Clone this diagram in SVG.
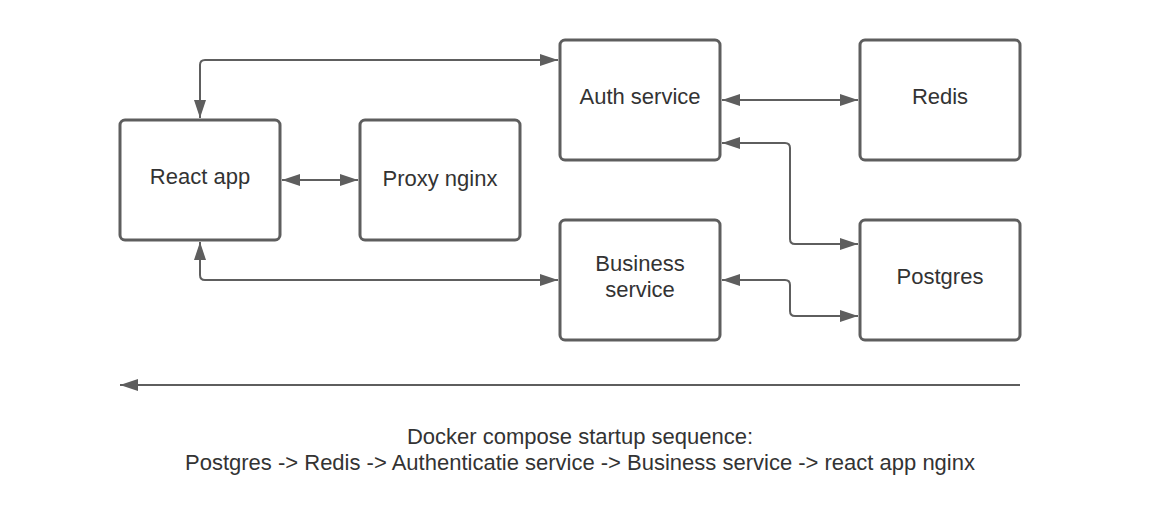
<svg xmlns="http://www.w3.org/2000/svg" width="1160" height="528" viewBox="0 0 1160 528">
  <style>
    .box { fill: #ffffff; stroke: #5e5e5e; stroke-width: 3; }
    .lbl { font-family: "Liberation Sans", Arial, sans-serif; font-size: 22px; fill: #333333; text-anchor: middle; }
    .conn { fill: none; stroke: #5e5e5e; stroke-width: 2; }
  </style>
  <defs>
    <marker id="arrow" viewBox="0 0 18 12" refX="18" refY="6" markerWidth="18" markerHeight="12" markerUnits="userSpaceOnUse" orient="auto-start-reverse">
      <path d="M0,0 L18,6 L0,12 z" fill="#5e5e5e"/>
    </marker>
  </defs>
  <rect width="1160" height="528" fill="#ffffff"/>

  <g id="connectors">
    <path class="conn" d="M200,118 L200,65 Q200,60 205,60 L558,60" marker-start="url(#arrow)" marker-end="url(#arrow)"/>
    <path class="conn" d="M200,242 L200,275 Q200,280 205,280 L558,280" marker-start="url(#arrow)" marker-end="url(#arrow)"/>
    <path class="conn" d="M282,180 L358,180" marker-start="url(#arrow)" marker-end="url(#arrow)"/>
    <path class="conn" d="M722,100 L858,100" marker-start="url(#arrow)" marker-end="url(#arrow)"/>
    <path class="conn" d="M722,143 L785,143 Q790,143 790,148 L790,239 Q790,244 795,244 L858,244" marker-start="url(#arrow)" marker-end="url(#arrow)"/>
    <path class="conn" d="M722,280 L785,280 Q790,280 790,285 L790,311 Q790,316 795,316 L858,316" marker-start="url(#arrow)" marker-end="url(#arrow)"/>
    <path class="conn" d="M1020,385 L120,385" marker-end="url(#arrow)"/>
  </g>

  <g id="react-app">
    <rect class="box" x="120" y="120" width="160" height="120" rx="5"/>
    <text class="lbl" x="200" y="184">React app</text>
  </g>
  <g id="proxy-nginx">
    <rect class="box" x="360" y="120" width="160" height="120" rx="5"/>
    <text class="lbl" x="440" y="186">Proxy nginx</text>
  </g>
  <g id="auth-service">
    <rect class="box" x="560" y="40" width="160" height="120" rx="5"/>
    <text class="lbl" x="640" y="104">Auth service</text>
  </g>
  <g id="redis">
    <rect class="box" x="860" y="40" width="160" height="120" rx="5"/>
    <text class="lbl" x="940" y="104">Redis</text>
  </g>
  <g id="business-service">
    <rect class="box" x="560" y="220" width="160" height="120" rx="5"/>
    <text class="lbl" x="640" y="271">Business</text>
    <text class="lbl" x="640" y="297">service</text>
  </g>
  <g id="postgres">
    <rect class="box" x="860" y="220" width="160" height="120" rx="5"/>
    <text class="lbl" x="940" y="284">Postgres</text>
  </g>

  <g id="caption">
    <text class="lbl" x="580" y="444">Docker compose startup sequence:</text>
    <text class="lbl" x="580" y="470">Postgres -&gt; Redis -&gt; Authenticatie service -&gt; Business service -&gt; react app nginx</text>
  </g>
</svg>
